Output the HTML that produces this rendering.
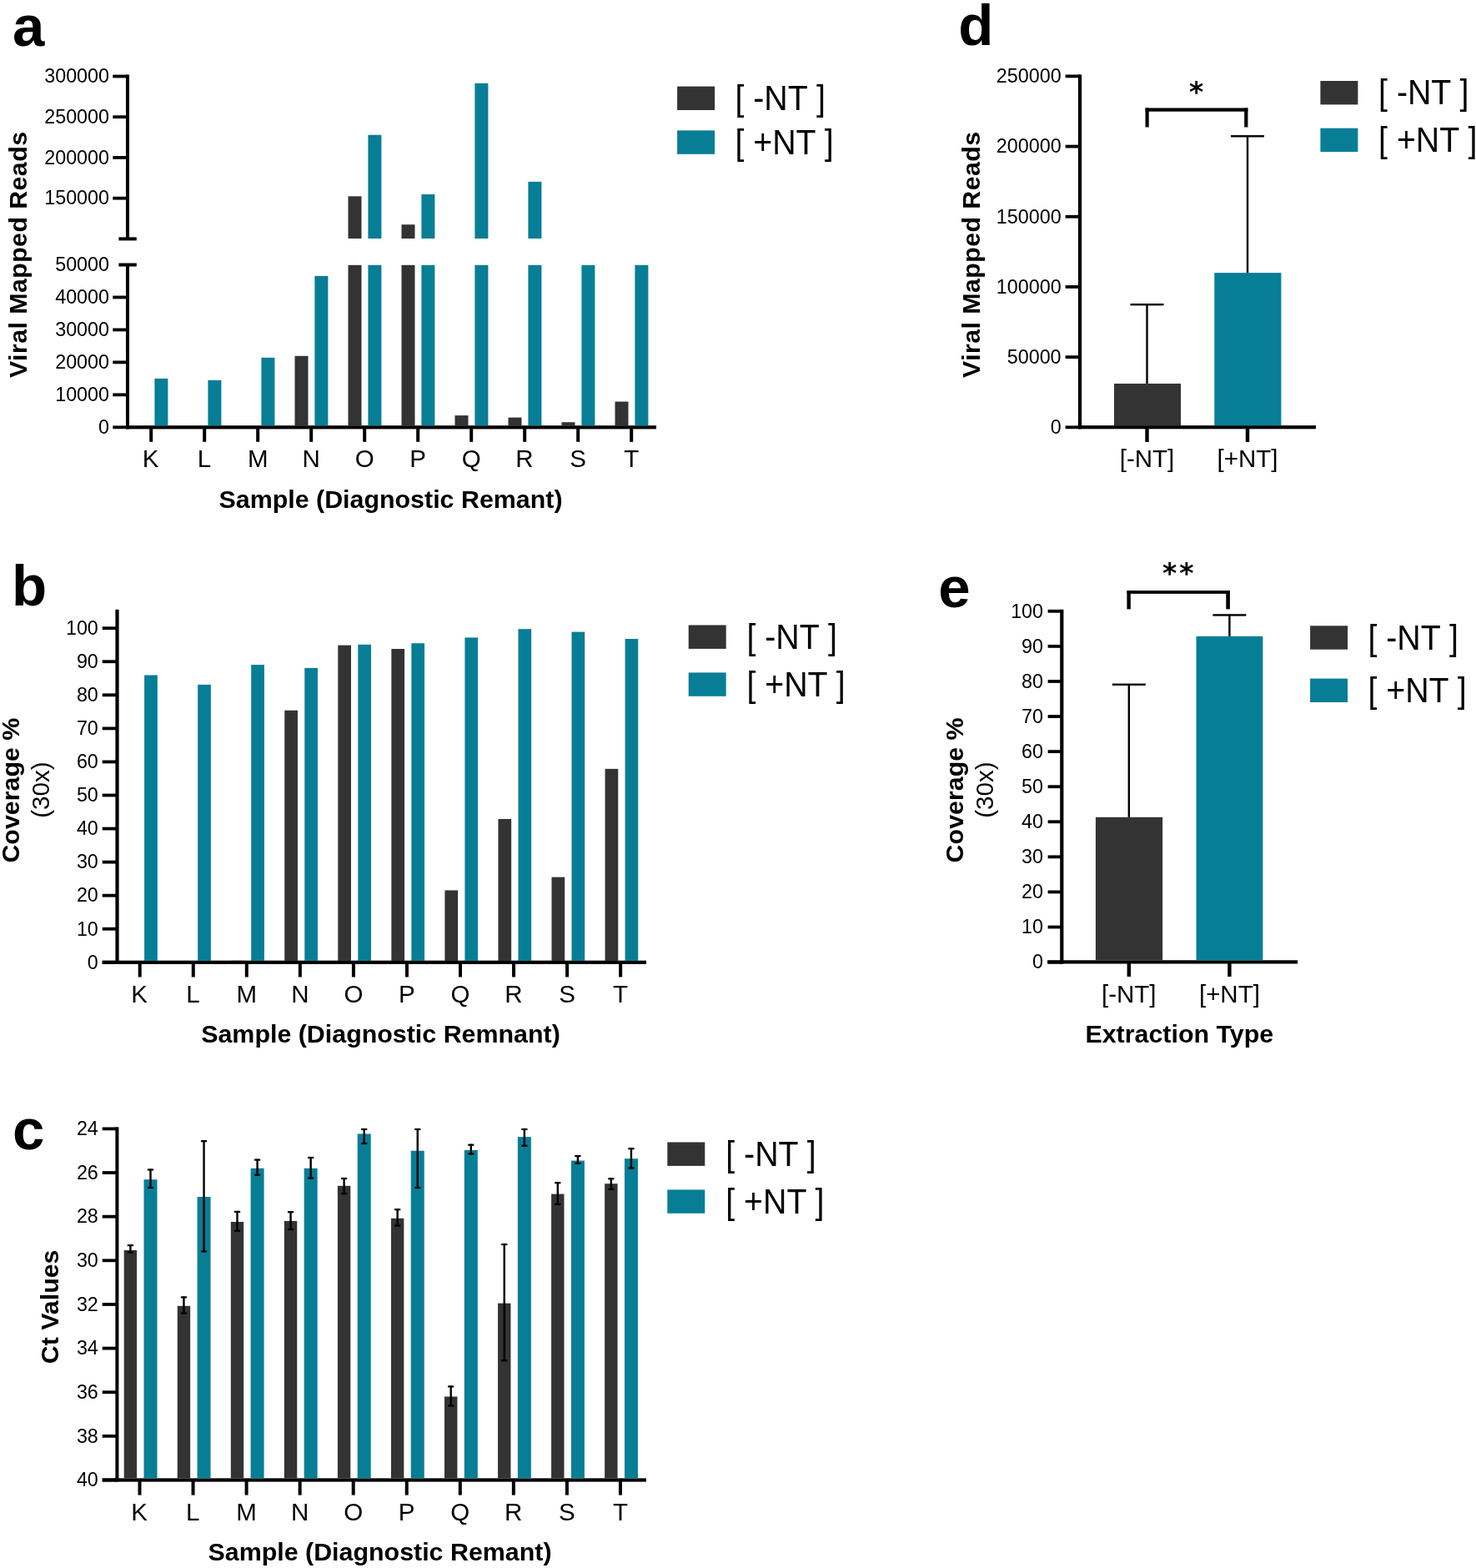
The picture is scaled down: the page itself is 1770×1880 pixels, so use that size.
<!DOCTYPE html>
<html><head><meta charset="utf-8"><title>Figure</title>
<style>html,body{margin:0;padding:0;background:#fff;}svg{display:block;}text{fill:#000;}</style>
</head><body>
<svg width="1770" height="1880" viewBox="0 0 1770 1880">
<rect x="0" y="0" width="1770" height="1880" fill="#fff"/>
<text x="15.00" y="55.30" font-size="69" text-anchor="start" font-weight="bold" font-family="'Liberation Sans', Arial, sans-serif">a</text>
<rect x="151.00" y="89.60" width="4.00" height="196.80" fill="#000000"/>
<rect x="151.00" y="317.50" width="4.00" height="196.80" fill="#000000"/>
<rect x="142.40" y="284.40" width="21.40" height="4.00" fill="#000000"/>
<rect x="142.40" y="315.50" width="21.40" height="4.00" fill="#000000"/>
<rect x="135.30" y="89.60" width="17.70" height="3.80" fill="#000000"/>
<text x="131.00" y="99.30" font-size="23.3" text-anchor="end" font-family="'Liberation Sans', Arial, sans-serif">300000</text>
<rect x="135.30" y="138.32" width="17.70" height="3.80" fill="#000000"/>
<text x="131.00" y="148.03" font-size="23.3" text-anchor="end" font-family="'Liberation Sans', Arial, sans-serif">250000</text>
<rect x="135.30" y="187.05" width="17.70" height="3.80" fill="#000000"/>
<text x="131.00" y="196.75" font-size="23.3" text-anchor="end" font-family="'Liberation Sans', Arial, sans-serif">200000</text>
<rect x="135.30" y="235.77" width="17.70" height="3.80" fill="#000000"/>
<text x="131.00" y="245.47" font-size="23.3" text-anchor="end" font-family="'Liberation Sans', Arial, sans-serif">150000</text>
<text x="131.00" y="325.30" font-size="23.3" text-anchor="end" font-family="'Liberation Sans', Arial, sans-serif">50000</text>
<rect x="135.30" y="354.56" width="17.70" height="3.80" fill="#000000"/>
<text x="131.00" y="364.26" font-size="23.3" text-anchor="end" font-family="'Liberation Sans', Arial, sans-serif">40000</text>
<rect x="135.30" y="393.52" width="17.70" height="3.80" fill="#000000"/>
<text x="131.00" y="403.22" font-size="23.3" text-anchor="end" font-family="'Liberation Sans', Arial, sans-serif">30000</text>
<rect x="135.30" y="432.48" width="17.70" height="3.80" fill="#000000"/>
<text x="131.00" y="442.18" font-size="23.3" text-anchor="end" font-family="'Liberation Sans', Arial, sans-serif">20000</text>
<rect x="135.30" y="471.44" width="17.70" height="3.80" fill="#000000"/>
<text x="131.00" y="481.14" font-size="23.3" text-anchor="end" font-family="'Liberation Sans', Arial, sans-serif">10000</text>
<rect x="135.30" y="510.40" width="17.70" height="3.80" fill="#000000"/>
<text x="131.00" y="520.10" font-size="23.3" text-anchor="end" font-family="'Liberation Sans', Arial, sans-serif">0</text>
<rect x="151.00" y="510.20" width="636.00" height="4.20" fill="#000000"/>
<rect x="179.20" y="512.30" width="4.00" height="17.50" fill="#000000"/>
<text x="180.70" y="560.20" font-size="29.5" text-anchor="middle" font-family="'Liberation Sans', Arial, sans-serif">K</text>
<rect x="185.40" y="453.86" width="16.00" height="56.44" fill="#077e96"/>
<rect x="243.20" y="512.30" width="4.00" height="17.50" fill="#000000"/>
<text x="244.84" y="560.20" font-size="29.5" text-anchor="middle" font-family="'Liberation Sans', Arial, sans-serif">L</text>
<rect x="249.40" y="455.81" width="16.00" height="54.49" fill="#077e96"/>
<rect x="307.20" y="512.30" width="4.00" height="17.50" fill="#000000"/>
<text x="309.22" y="560.20" font-size="29.5" text-anchor="middle" font-family="'Liberation Sans', Arial, sans-serif">M</text>
<rect x="313.40" y="428.81" width="16.00" height="81.49" fill="#077e96"/>
<rect x="371.20" y="512.30" width="4.00" height="17.50" fill="#000000"/>
<text x="373.22" y="560.20" font-size="29.5" text-anchor="middle" font-family="'Liberation Sans', Arial, sans-serif">N</text>
<rect x="353.50" y="426.78" width="16.00" height="83.52" fill="#333333"/>
<rect x="377.40" y="330.90" width="16.00" height="179.40" fill="#077e96"/>
<rect x="435.20" y="512.30" width="4.00" height="17.50" fill="#000000"/>
<text x="437.22" y="560.20" font-size="29.5" text-anchor="middle" font-family="'Liberation Sans', Arial, sans-serif">O</text>
<rect x="417.50" y="317.80" width="16.00" height="192.50" fill="#333333"/>
<rect x="417.50" y="235.34" width="16.00" height="50.66" fill="#333333"/>
<rect x="441.40" y="317.80" width="16.00" height="192.50" fill="#077e96"/>
<rect x="441.40" y="161.76" width="16.00" height="124.24" fill="#077e96"/>
<rect x="499.20" y="512.30" width="4.00" height="17.50" fill="#000000"/>
<text x="500.99" y="560.20" font-size="29.5" text-anchor="middle" font-family="'Liberation Sans', Arial, sans-serif">P</text>
<rect x="481.50" y="317.80" width="16.00" height="192.50" fill="#333333"/>
<rect x="481.50" y="269.25" width="16.00" height="16.75" fill="#333333"/>
<rect x="505.40" y="317.80" width="16.00" height="192.50" fill="#077e96"/>
<rect x="505.40" y="233.00" width="16.00" height="53.00" fill="#077e96"/>
<rect x="563.20" y="512.30" width="4.00" height="17.50" fill="#000000"/>
<text x="565.22" y="560.20" font-size="29.5" text-anchor="middle" font-family="'Liberation Sans', Arial, sans-serif">Q</text>
<rect x="545.50" y="498.10" width="16.00" height="12.20" fill="#333333"/>
<rect x="569.40" y="317.80" width="16.00" height="192.50" fill="#077e96"/>
<rect x="569.40" y="99.88" width="16.00" height="186.12" fill="#077e96"/>
<rect x="627.20" y="512.30" width="4.00" height="17.50" fill="#000000"/>
<text x="628.96" y="560.20" font-size="29.5" text-anchor="middle" font-family="'Liberation Sans', Arial, sans-serif">R</text>
<rect x="609.50" y="500.61" width="16.00" height="9.69" fill="#333333"/>
<rect x="633.40" y="317.80" width="16.00" height="192.50" fill="#077e96"/>
<rect x="633.40" y="217.89" width="16.00" height="68.11" fill="#077e96"/>
<rect x="691.20" y="512.30" width="4.00" height="17.50" fill="#000000"/>
<text x="693.21" y="560.20" font-size="29.5" text-anchor="middle" font-family="'Liberation Sans', Arial, sans-serif">S</text>
<rect x="673.50" y="506.20" width="16.00" height="4.10" fill="#333333"/>
<rect x="697.40" y="317.80" width="16.00" height="192.50" fill="#077e96"/>
<rect x="755.20" y="512.30" width="4.00" height="17.50" fill="#000000"/>
<text x="757.17" y="560.20" font-size="29.5" text-anchor="middle" font-family="'Liberation Sans', Arial, sans-serif">T</text>
<rect x="737.50" y="481.52" width="16.00" height="28.78" fill="#333333"/>
<rect x="761.40" y="317.80" width="16.00" height="192.50" fill="#077e96"/>
<text transform="translate(32.10 305.30) rotate(-90)" font-size="30.4" text-anchor="middle" font-weight="bold" font-family="'Liberation Sans', Arial, sans-serif" letter-spacing="0.4">Viral Mapped Reads</text>
<text x="468.50" y="608.60" font-size="30.4" text-anchor="middle" font-weight="bold" font-family="'Liberation Sans', Arial, sans-serif">Sample (Diagnostic Remant)</text>
<rect x="812.10" y="103.60" width="45.00" height="28.40" fill="#333333"/>
<rect x="812.10" y="156.40" width="45.00" height="28.40" fill="#077e96"/>
<text transform="translate(881.45 132.00) scale(1 1.06)" font-size="39.3" text-anchor="start" font-family="'Liberation Sans', Arial, sans-serif">[ -NT ]</text>
<text transform="translate(881.45 184.80) scale(1 1.06)" font-size="39.3" text-anchor="start" font-family="'Liberation Sans', Arial, sans-serif">[ +NT ]</text>
<text x="14.10" y="725.70" font-size="69" text-anchor="start" font-weight="bold" font-family="'Liberation Sans', Arial, sans-serif">b</text>
<rect x="138.40" y="730.80" width="4.20" height="425.00" fill="#000000"/>
<rect x="122.70" y="1151.90" width="17.80" height="3.80" fill="#000000"/>
<text x="117.80" y="1161.60" font-size="23.3" text-anchor="end" font-family="'Liberation Sans', Arial, sans-serif">0</text>
<rect x="122.70" y="1111.84" width="17.80" height="3.80" fill="#000000"/>
<text x="117.80" y="1121.54" font-size="23.3" text-anchor="end" font-family="'Liberation Sans', Arial, sans-serif">10</text>
<rect x="122.70" y="1071.78" width="17.80" height="3.80" fill="#000000"/>
<text x="117.80" y="1081.48" font-size="23.3" text-anchor="end" font-family="'Liberation Sans', Arial, sans-serif">20</text>
<rect x="122.70" y="1031.72" width="17.80" height="3.80" fill="#000000"/>
<text x="117.80" y="1041.42" font-size="23.3" text-anchor="end" font-family="'Liberation Sans', Arial, sans-serif">30</text>
<rect x="122.70" y="991.66" width="17.80" height="3.80" fill="#000000"/>
<text x="117.80" y="1001.36" font-size="23.3" text-anchor="end" font-family="'Liberation Sans', Arial, sans-serif">40</text>
<rect x="122.70" y="951.60" width="17.80" height="3.80" fill="#000000"/>
<text x="117.80" y="961.30" font-size="23.3" text-anchor="end" font-family="'Liberation Sans', Arial, sans-serif">50</text>
<rect x="122.70" y="911.54" width="17.80" height="3.80" fill="#000000"/>
<text x="117.80" y="921.24" font-size="23.3" text-anchor="end" font-family="'Liberation Sans', Arial, sans-serif">60</text>
<rect x="122.70" y="871.48" width="17.80" height="3.80" fill="#000000"/>
<text x="117.80" y="881.18" font-size="23.3" text-anchor="end" font-family="'Liberation Sans', Arial, sans-serif">70</text>
<rect x="122.70" y="831.42" width="17.80" height="3.80" fill="#000000"/>
<text x="117.80" y="841.12" font-size="23.3" text-anchor="end" font-family="'Liberation Sans', Arial, sans-serif">80</text>
<rect x="122.70" y="791.36" width="17.80" height="3.80" fill="#000000"/>
<text x="117.80" y="801.06" font-size="23.3" text-anchor="end" font-family="'Liberation Sans', Arial, sans-serif">90</text>
<rect x="122.70" y="751.30" width="17.80" height="3.80" fill="#000000"/>
<text x="117.80" y="761.00" font-size="23.3" text-anchor="end" font-family="'Liberation Sans', Arial, sans-serif">100</text>
<rect x="122.70" y="1151.70" width="652.30" height="4.20" fill="#000000"/>
<rect x="165.70" y="1153.80" width="4.00" height="17.70" fill="#000000"/>
<text x="167.20" y="1201.80" font-size="29.5" text-anchor="middle" font-family="'Liberation Sans', Arial, sans-serif">K</text>
<rect x="173.10" y="809.48" width="15.70" height="342.52" fill="#077e96"/>
<rect x="229.75" y="1153.80" width="4.00" height="17.70" fill="#000000"/>
<text x="231.39" y="1201.80" font-size="29.5" text-anchor="middle" font-family="'Liberation Sans', Arial, sans-serif">L</text>
<rect x="237.15" y="820.90" width="15.70" height="331.10" fill="#077e96"/>
<rect x="293.80" y="1153.80" width="4.00" height="17.70" fill="#000000"/>
<text x="295.82" y="1201.80" font-size="29.5" text-anchor="middle" font-family="'Liberation Sans', Arial, sans-serif">M</text>
<rect x="277.20" y="1151.80" width="15.70" height="0.20" fill="#333333"/>
<rect x="301.20" y="797.07" width="15.70" height="354.93" fill="#077e96"/>
<rect x="357.85" y="1153.80" width="4.00" height="17.70" fill="#000000"/>
<text x="359.87" y="1201.80" font-size="29.5" text-anchor="middle" font-family="'Liberation Sans', Arial, sans-serif">N</text>
<rect x="341.25" y="851.75" width="15.70" height="300.25" fill="#333333"/>
<rect x="365.25" y="800.87" width="15.70" height="351.13" fill="#077e96"/>
<rect x="421.90" y="1153.80" width="4.00" height="17.70" fill="#000000"/>
<text x="423.92" y="1201.80" font-size="29.5" text-anchor="middle" font-family="'Liberation Sans', Arial, sans-serif">O</text>
<rect x="405.30" y="773.63" width="15.70" height="378.37" fill="#333333"/>
<rect x="429.30" y="772.83" width="15.70" height="379.17" fill="#077e96"/>
<rect x="485.95" y="1153.80" width="4.00" height="17.70" fill="#000000"/>
<text x="487.74" y="1201.80" font-size="29.5" text-anchor="middle" font-family="'Liberation Sans', Arial, sans-serif">P</text>
<rect x="469.35" y="778.04" width="15.70" height="373.96" fill="#333333"/>
<rect x="493.35" y="771.23" width="15.70" height="380.77" fill="#077e96"/>
<rect x="550.00" y="1153.80" width="4.00" height="17.70" fill="#000000"/>
<text x="552.02" y="1201.80" font-size="29.5" text-anchor="middle" font-family="'Liberation Sans', Arial, sans-serif">Q</text>
<rect x="533.40" y="1067.47" width="15.70" height="84.53" fill="#333333"/>
<rect x="557.40" y="764.42" width="15.70" height="387.58" fill="#077e96"/>
<rect x="614.05" y="1153.80" width="4.00" height="17.70" fill="#000000"/>
<text x="615.81" y="1201.80" font-size="29.5" text-anchor="middle" font-family="'Liberation Sans', Arial, sans-serif">R</text>
<rect x="597.45" y="981.94" width="15.70" height="170.06" fill="#333333"/>
<rect x="621.45" y="754.20" width="15.70" height="397.80" fill="#077e96"/>
<rect x="678.10" y="1153.80" width="4.00" height="17.70" fill="#000000"/>
<text x="680.11" y="1201.80" font-size="29.5" text-anchor="middle" font-family="'Liberation Sans', Arial, sans-serif">S</text>
<rect x="661.50" y="1051.65" width="15.70" height="100.35" fill="#333333"/>
<rect x="685.50" y="757.61" width="15.70" height="394.39" fill="#077e96"/>
<rect x="742.15" y="1153.80" width="4.00" height="17.70" fill="#000000"/>
<text x="744.12" y="1201.80" font-size="29.5" text-anchor="middle" font-family="'Liberation Sans', Arial, sans-serif">T</text>
<rect x="725.55" y="921.85" width="15.70" height="230.15" fill="#333333"/>
<rect x="749.55" y="766.02" width="15.70" height="385.98" fill="#077e96"/>
<text transform="translate(23.20 947.60) rotate(-90)" font-size="30.4" text-anchor="middle" font-weight="bold" font-family="'Liberation Sans', Arial, sans-serif">Coverage %</text>
<text transform="translate(58.50 947.10) rotate(-90)" font-size="29.6" text-anchor="middle" font-family="'Liberation Sans', Arial, sans-serif">(30x)</text>
<text x="241.19" y="1249.80" font-size="30.4" text-anchor="start" font-weight="bold" font-family="'Liberation Sans', Arial, sans-serif">Sample (Diagnostic Remnant)</text>
<rect x="825.70" y="749.50" width="45.00" height="28.40" fill="#333333"/>
<rect x="825.70" y="806.40" width="45.00" height="28.40" fill="#077e96"/>
<text transform="translate(895.45 777.90) scale(1 1.06)" font-size="39.3" text-anchor="start" font-family="'Liberation Sans', Arial, sans-serif">[ -NT ]</text>
<text transform="translate(895.45 834.80) scale(1 1.06)" font-size="39.3" text-anchor="start" font-family="'Liberation Sans', Arial, sans-serif">[ +NT ]</text>
<text x="15.00" y="1378.10" font-size="69" text-anchor="start" font-weight="bold" font-family="'Liberation Sans', Arial, sans-serif">c</text>
<rect x="138.40" y="1351.40" width="4.00" height="425.10" fill="#000000"/>
<rect x="122.70" y="1351.50" width="17.70" height="3.80" fill="#000000"/>
<text x="117.80" y="1361.20" font-size="23.3" text-anchor="end" font-family="'Liberation Sans', Arial, sans-serif">24</text>
<rect x="122.70" y="1404.14" width="17.70" height="3.80" fill="#000000"/>
<text x="117.80" y="1413.84" font-size="23.3" text-anchor="end" font-family="'Liberation Sans', Arial, sans-serif">26</text>
<rect x="122.70" y="1456.78" width="17.70" height="3.80" fill="#000000"/>
<text x="117.80" y="1466.48" font-size="23.3" text-anchor="end" font-family="'Liberation Sans', Arial, sans-serif">28</text>
<rect x="122.70" y="1509.41" width="17.70" height="3.80" fill="#000000"/>
<text x="117.80" y="1519.11" font-size="23.3" text-anchor="end" font-family="'Liberation Sans', Arial, sans-serif">30</text>
<rect x="122.70" y="1562.05" width="17.70" height="3.80" fill="#000000"/>
<text x="117.80" y="1571.75" font-size="23.3" text-anchor="end" font-family="'Liberation Sans', Arial, sans-serif">32</text>
<rect x="122.70" y="1614.69" width="17.70" height="3.80" fill="#000000"/>
<text x="117.80" y="1624.39" font-size="23.3" text-anchor="end" font-family="'Liberation Sans', Arial, sans-serif">34</text>
<rect x="122.70" y="1667.32" width="17.70" height="3.80" fill="#000000"/>
<text x="117.80" y="1677.02" font-size="23.3" text-anchor="end" font-family="'Liberation Sans', Arial, sans-serif">36</text>
<rect x="122.70" y="1719.96" width="17.70" height="3.80" fill="#000000"/>
<text x="117.80" y="1729.66" font-size="23.3" text-anchor="end" font-family="'Liberation Sans', Arial, sans-serif">38</text>
<rect x="122.70" y="1772.60" width="17.70" height="3.80" fill="#000000"/>
<text x="117.80" y="1782.30" font-size="23.3" text-anchor="end" font-family="'Liberation Sans', Arial, sans-serif">40</text>
<rect x="122.70" y="1772.40" width="652.30" height="4.20" fill="#000000"/>
<rect x="165.50" y="1774.50" width="4.00" height="18.10" fill="#000000"/>
<text x="167.00" y="1822.90" font-size="29.5" text-anchor="middle" font-family="'Liberation Sans', Arial, sans-serif">K</text>
<rect x="148.70" y="1498.94" width="15.40" height="273.56" fill="#333333"/>
<rect x="155.20" y="1492.10" width="2.40" height="10.50" fill="#000000"/>
<rect x="152.80" y="1492.00" width="7.20" height="2.20" fill="#000000"/>
<rect x="152.80" y="1500.50" width="7.20" height="2.20" fill="#000000"/>
<rect x="172.50" y="1414.20" width="16.00" height="358.30" fill="#077e96"/>
<rect x="179.30" y="1401.50" width="2.40" height="23.50" fill="#000000"/>
<rect x="176.90" y="1401.40" width="7.20" height="2.20" fill="#000000"/>
<rect x="176.90" y="1422.90" width="7.20" height="2.20" fill="#000000"/>
<rect x="229.55" y="1774.50" width="4.00" height="18.10" fill="#000000"/>
<text x="231.19" y="1822.90" font-size="29.5" text-anchor="middle" font-family="'Liberation Sans', Arial, sans-serif">L</text>
<rect x="212.75" y="1565.79" width="15.40" height="206.71" fill="#333333"/>
<rect x="219.25" y="1554.40" width="2.40" height="21.20" fill="#000000"/>
<rect x="216.85" y="1554.30" width="7.20" height="2.20" fill="#000000"/>
<rect x="216.85" y="1573.50" width="7.20" height="2.20" fill="#000000"/>
<rect x="236.55" y="1434.99" width="16.00" height="337.51" fill="#077e96"/>
<rect x="243.35" y="1367.20" width="2.40" height="134.20" fill="#000000"/>
<rect x="240.95" y="1367.10" width="7.20" height="2.20" fill="#000000"/>
<rect x="240.95" y="1499.30" width="7.20" height="2.20" fill="#000000"/>
<rect x="293.60" y="1774.50" width="4.00" height="18.10" fill="#000000"/>
<text x="295.62" y="1822.90" font-size="29.5" text-anchor="middle" font-family="'Liberation Sans', Arial, sans-serif">M</text>
<rect x="276.80" y="1464.99" width="15.40" height="307.51" fill="#333333"/>
<rect x="283.30" y="1451.90" width="2.40" height="24.90" fill="#000000"/>
<rect x="280.90" y="1451.80" width="7.20" height="2.20" fill="#000000"/>
<rect x="280.90" y="1474.70" width="7.20" height="2.20" fill="#000000"/>
<rect x="300.60" y="1400.77" width="16.00" height="371.73" fill="#077e96"/>
<rect x="307.40" y="1389.60" width="2.40" height="20.10" fill="#000000"/>
<rect x="305.00" y="1389.50" width="7.20" height="2.20" fill="#000000"/>
<rect x="305.00" y="1407.60" width="7.20" height="2.20" fill="#000000"/>
<rect x="357.65" y="1774.50" width="4.00" height="18.10" fill="#000000"/>
<text x="359.67" y="1822.90" font-size="29.5" text-anchor="middle" font-family="'Liberation Sans', Arial, sans-serif">N</text>
<rect x="340.85" y="1463.94" width="15.40" height="308.56" fill="#333333"/>
<rect x="347.35" y="1452.20" width="2.40" height="22.80" fill="#000000"/>
<rect x="344.95" y="1452.10" width="7.20" height="2.20" fill="#000000"/>
<rect x="344.95" y="1472.90" width="7.20" height="2.20" fill="#000000"/>
<rect x="364.65" y="1400.77" width="16.00" height="371.73" fill="#077e96"/>
<rect x="371.45" y="1387.00" width="2.40" height="26.50" fill="#000000"/>
<rect x="369.05" y="1386.90" width="7.20" height="2.20" fill="#000000"/>
<rect x="369.05" y="1411.40" width="7.20" height="2.20" fill="#000000"/>
<rect x="421.70" y="1774.50" width="4.00" height="18.10" fill="#000000"/>
<text x="423.72" y="1822.90" font-size="29.5" text-anchor="middle" font-family="'Liberation Sans', Arial, sans-serif">O</text>
<rect x="404.90" y="1421.83" width="15.40" height="350.67" fill="#333333"/>
<rect x="411.40" y="1412.00" width="2.40" height="20.10" fill="#000000"/>
<rect x="409.00" y="1411.90" width="7.20" height="2.20" fill="#000000"/>
<rect x="409.00" y="1430.00" width="7.20" height="2.20" fill="#000000"/>
<rect x="428.70" y="1359.45" width="16.00" height="413.05" fill="#077e96"/>
<rect x="435.50" y="1353.00" width="2.40" height="19.00" fill="#000000"/>
<rect x="433.10" y="1352.90" width="7.20" height="2.20" fill="#000000"/>
<rect x="433.10" y="1369.90" width="7.20" height="2.20" fill="#000000"/>
<rect x="485.75" y="1774.50" width="4.00" height="18.10" fill="#000000"/>
<text x="487.54" y="1822.90" font-size="29.5" text-anchor="middle" font-family="'Liberation Sans', Arial, sans-serif">P</text>
<rect x="468.95" y="1460.78" width="15.40" height="311.72" fill="#333333"/>
<rect x="475.45" y="1449.20" width="2.40" height="21.30" fill="#000000"/>
<rect x="473.05" y="1449.10" width="7.20" height="2.20" fill="#000000"/>
<rect x="473.05" y="1468.40" width="7.20" height="2.20" fill="#000000"/>
<rect x="492.75" y="1379.72" width="16.00" height="392.78" fill="#077e96"/>
<rect x="499.55" y="1353.00" width="2.40" height="72.00" fill="#000000"/>
<rect x="497.15" y="1352.90" width="7.20" height="2.20" fill="#000000"/>
<rect x="497.15" y="1422.90" width="7.20" height="2.20" fill="#000000"/>
<rect x="549.80" y="1774.50" width="4.00" height="18.10" fill="#000000"/>
<text x="551.82" y="1822.90" font-size="29.5" text-anchor="middle" font-family="'Liberation Sans', Arial, sans-serif">Q</text>
<rect x="533.00" y="1674.49" width="15.40" height="98.01" fill="#333333"/>
<rect x="539.50" y="1661.40" width="2.40" height="25.00" fill="#000000"/>
<rect x="537.10" y="1661.30" width="7.20" height="2.20" fill="#000000"/>
<rect x="537.10" y="1684.30" width="7.20" height="2.20" fill="#000000"/>
<rect x="556.80" y="1378.93" width="16.00" height="393.57" fill="#077e96"/>
<rect x="563.60" y="1371.70" width="2.40" height="12.70" fill="#000000"/>
<rect x="561.20" y="1371.60" width="7.20" height="2.20" fill="#000000"/>
<rect x="561.20" y="1382.30" width="7.20" height="2.20" fill="#000000"/>
<rect x="613.85" y="1774.50" width="4.00" height="18.10" fill="#000000"/>
<text x="615.61" y="1822.90" font-size="29.5" text-anchor="middle" font-family="'Liberation Sans', Arial, sans-serif">R</text>
<rect x="597.05" y="1562.63" width="15.40" height="209.87" fill="#333333"/>
<rect x="603.55" y="1491.00" width="2.40" height="141.30" fill="#000000"/>
<rect x="601.15" y="1490.90" width="7.20" height="2.20" fill="#000000"/>
<rect x="601.15" y="1630.20" width="7.20" height="2.20" fill="#000000"/>
<rect x="620.85" y="1363.14" width="16.00" height="409.36" fill="#077e96"/>
<rect x="627.65" y="1353.00" width="2.40" height="21.70" fill="#000000"/>
<rect x="625.25" y="1352.90" width="7.20" height="2.20" fill="#000000"/>
<rect x="625.25" y="1372.60" width="7.20" height="2.20" fill="#000000"/>
<rect x="677.90" y="1774.50" width="4.00" height="18.10" fill="#000000"/>
<text x="679.91" y="1822.90" font-size="29.5" text-anchor="middle" font-family="'Liberation Sans', Arial, sans-serif">S</text>
<rect x="661.10" y="1431.57" width="15.40" height="340.93" fill="#333333"/>
<rect x="667.60" y="1417.20" width="2.40" height="27.60" fill="#000000"/>
<rect x="665.20" y="1417.10" width="7.20" height="2.20" fill="#000000"/>
<rect x="665.20" y="1442.70" width="7.20" height="2.20" fill="#000000"/>
<rect x="684.90" y="1391.56" width="16.00" height="380.94" fill="#077e96"/>
<rect x="691.70" y="1385.10" width="2.40" height="10.80" fill="#000000"/>
<rect x="689.30" y="1385.00" width="7.20" height="2.20" fill="#000000"/>
<rect x="689.30" y="1393.80" width="7.20" height="2.20" fill="#000000"/>
<rect x="741.95" y="1774.50" width="4.00" height="18.10" fill="#000000"/>
<text x="743.92" y="1822.90" font-size="29.5" text-anchor="middle" font-family="'Liberation Sans', Arial, sans-serif">T</text>
<rect x="725.15" y="1419.20" width="15.40" height="353.30" fill="#333333"/>
<rect x="731.65" y="1412.30" width="2.40" height="14.60" fill="#000000"/>
<rect x="729.25" y="1412.20" width="7.20" height="2.20" fill="#000000"/>
<rect x="729.25" y="1424.80" width="7.20" height="2.20" fill="#000000"/>
<rect x="748.95" y="1389.19" width="16.00" height="383.31" fill="#077e96"/>
<rect x="755.75" y="1376.20" width="2.40" height="25.30" fill="#000000"/>
<rect x="753.35" y="1376.10" width="7.20" height="2.20" fill="#000000"/>
<rect x="753.35" y="1399.40" width="7.20" height="2.20" fill="#000000"/>
<text transform="translate(69.90 1566.90) rotate(-90)" font-size="30.4" text-anchor="middle" font-weight="bold" font-family="'Liberation Sans', Arial, sans-serif">Ct Values</text>
<text x="249.49" y="1871.00" font-size="30.4" text-anchor="start" font-weight="bold" font-family="'Liberation Sans', Arial, sans-serif">Sample (Diagnostic Remant)</text>
<rect x="800.30" y="1369.50" width="45.00" height="28.40" fill="#333333"/>
<rect x="800.30" y="1426.40" width="45.00" height="28.40" fill="#077e96"/>
<text transform="translate(870.25 1397.90) scale(1 1.06)" font-size="39.3" text-anchor="start" font-family="'Liberation Sans', Arial, sans-serif">[ -NT ]</text>
<text transform="translate(870.25 1454.80) scale(1 1.06)" font-size="39.3" text-anchor="start" font-family="'Liberation Sans', Arial, sans-serif">[ +NT ]</text>
<text x="1149.30" y="54.40" font-size="69" text-anchor="start" font-weight="bold" font-family="'Liberation Sans', Arial, sans-serif">d</text>
<rect x="1292.90" y="89.40" width="4.20" height="424.90" fill="#000000"/>
<rect x="1277.60" y="510.40" width="17.40" height="3.80" fill="#000000"/>
<text x="1272.60" y="520.10" font-size="23.3" text-anchor="end" font-family="'Liberation Sans', Arial, sans-serif">0</text>
<rect x="1277.60" y="426.22" width="17.40" height="3.80" fill="#000000"/>
<text x="1272.60" y="435.92" font-size="23.3" text-anchor="end" font-family="'Liberation Sans', Arial, sans-serif">50000</text>
<rect x="1277.60" y="342.04" width="17.40" height="3.80" fill="#000000"/>
<text x="1272.60" y="351.74" font-size="23.3" text-anchor="end" font-family="'Liberation Sans', Arial, sans-serif">100000</text>
<rect x="1277.60" y="257.86" width="17.40" height="3.80" fill="#000000"/>
<text x="1272.60" y="267.56" font-size="23.3" text-anchor="end" font-family="'Liberation Sans', Arial, sans-serif">150000</text>
<rect x="1277.60" y="173.68" width="17.40" height="3.80" fill="#000000"/>
<text x="1272.60" y="183.38" font-size="23.3" text-anchor="end" font-family="'Liberation Sans', Arial, sans-serif">200000</text>
<rect x="1277.60" y="89.50" width="17.40" height="3.80" fill="#000000"/>
<text x="1272.60" y="99.20" font-size="23.3" text-anchor="end" font-family="'Liberation Sans', Arial, sans-serif">250000</text>
<rect x="1293.00" y="510.10" width="285.00" height="4.20" fill="#000000"/>
<rect x="1336.00" y="459.94" width="80.00" height="50.26" fill="#333333"/>
<rect x="1374.30" y="365.15" width="2.40" height="94.79" fill="#000000"/>
<rect x="1355.50" y="363.95" width="40.00" height="2.40" fill="#000000"/>
<rect x="1373.30" y="512.20" width="4.40" height="17.80" fill="#000000"/>
<text x="1375.51" y="560.40" font-size="29.5" text-anchor="middle" font-family="'Liberation Sans', Arial, sans-serif">[-NT]</text>
<rect x="1456.30" y="327.10" width="80.10" height="183.10" fill="#077e96"/>
<rect x="1494.80" y="163.29" width="2.40" height="163.81" fill="#000000"/>
<rect x="1476.00" y="162.09" width="40.00" height="2.40" fill="#000000"/>
<rect x="1493.80" y="512.20" width="4.40" height="17.80" fill="#000000"/>
<text x="1496.02" y="560.40" font-size="29.5" text-anchor="middle" font-family="'Liberation Sans', Arial, sans-serif">[+NT]</text>
<text transform="translate(1174.70 305.20) rotate(-90)" font-size="30.4" text-anchor="middle" font-weight="bold" font-family="'Liberation Sans', Arial, sans-serif" letter-spacing="0.4">Viral Mapped Reads</text>
<rect x="1373.50" y="129.50" width="122.90" height="4.20" fill="#000000"/>
<rect x="1373.50" y="129.50" width="4.20" height="23.00" fill="#000000"/>
<rect x="1492.20" y="129.50" width="4.20" height="23.00" fill="#000000"/>
<text x="1434.60" y="121.50" font-size="33" text-anchor="middle" font-weight="bold" font-family="'DejaVu Sans', sans-serif">*</text>
<rect x="1583.40" y="97.00" width="45.00" height="28.40" fill="#333333"/>
<rect x="1583.40" y="153.70" width="45.00" height="28.40" fill="#077e96"/>
<text transform="translate(1653.05 125.40) scale(1 1.06)" font-size="39.3" text-anchor="start" font-family="'Liberation Sans', Arial, sans-serif">[ -NT ]</text>
<text transform="translate(1653.05 182.10) scale(1 1.06)" font-size="39.3" text-anchor="start" font-family="'Liberation Sans', Arial, sans-serif">[ +NT ]</text>
<text x="1125.20" y="727.60" font-size="69" text-anchor="start" font-weight="bold" font-family="'Liberation Sans', Arial, sans-serif">e</text>
<rect x="1271.20" y="730.80" width="4.20" height="424.80" fill="#000000"/>
<rect x="1256.60" y="1151.70" width="16.70" height="3.80" fill="#000000"/>
<text x="1251.00" y="1161.40" font-size="23.3" text-anchor="end" font-family="'Liberation Sans', Arial, sans-serif">0</text>
<rect x="1256.60" y="1109.62" width="16.70" height="3.80" fill="#000000"/>
<text x="1251.00" y="1119.32" font-size="23.3" text-anchor="end" font-family="'Liberation Sans', Arial, sans-serif">10</text>
<rect x="1256.60" y="1067.54" width="16.70" height="3.80" fill="#000000"/>
<text x="1251.00" y="1077.24" font-size="23.3" text-anchor="end" font-family="'Liberation Sans', Arial, sans-serif">20</text>
<rect x="1256.60" y="1025.46" width="16.70" height="3.80" fill="#000000"/>
<text x="1251.00" y="1035.16" font-size="23.3" text-anchor="end" font-family="'Liberation Sans', Arial, sans-serif">30</text>
<rect x="1256.60" y="983.38" width="16.70" height="3.80" fill="#000000"/>
<text x="1251.00" y="993.08" font-size="23.3" text-anchor="end" font-family="'Liberation Sans', Arial, sans-serif">40</text>
<rect x="1256.60" y="941.30" width="16.70" height="3.80" fill="#000000"/>
<text x="1251.00" y="951.00" font-size="23.3" text-anchor="end" font-family="'Liberation Sans', Arial, sans-serif">50</text>
<rect x="1256.60" y="899.22" width="16.70" height="3.80" fill="#000000"/>
<text x="1251.00" y="908.92" font-size="23.3" text-anchor="end" font-family="'Liberation Sans', Arial, sans-serif">60</text>
<rect x="1256.60" y="857.14" width="16.70" height="3.80" fill="#000000"/>
<text x="1251.00" y="866.84" font-size="23.3" text-anchor="end" font-family="'Liberation Sans', Arial, sans-serif">70</text>
<rect x="1256.60" y="815.06" width="16.70" height="3.80" fill="#000000"/>
<text x="1251.00" y="824.76" font-size="23.3" text-anchor="end" font-family="'Liberation Sans', Arial, sans-serif">80</text>
<rect x="1256.60" y="772.98" width="16.70" height="3.80" fill="#000000"/>
<text x="1251.00" y="782.68" font-size="23.3" text-anchor="end" font-family="'Liberation Sans', Arial, sans-serif">90</text>
<rect x="1256.60" y="730.90" width="16.70" height="3.80" fill="#000000"/>
<text x="1251.00" y="740.60" font-size="23.3" text-anchor="end" font-family="'Liberation Sans', Arial, sans-serif">100</text>
<rect x="1256.00" y="1151.30" width="300.10" height="4.20" fill="#000000"/>
<rect x="1313.90" y="979.81" width="80.20" height="171.59" fill="#333333"/>
<rect x="1352.60" y="820.75" width="2.40" height="159.06" fill="#000000"/>
<rect x="1333.80" y="819.55" width="40.00" height="2.40" fill="#000000"/>
<rect x="1351.60" y="1153.40" width="4.40" height="17.60" fill="#000000"/>
<text x="1353.81" y="1201.50" font-size="29.5" text-anchor="middle" font-family="'Liberation Sans', Arial, sans-serif">[-NT]</text>
<rect x="1434.50" y="762.89" width="79.90" height="388.51" fill="#077e96"/>
<rect x="1473.20" y="737.43" width="2.40" height="25.46" fill="#000000"/>
<rect x="1454.40" y="736.23" width="40.00" height="2.40" fill="#000000"/>
<rect x="1472.20" y="1153.40" width="4.40" height="17.60" fill="#000000"/>
<text x="1474.42" y="1201.50" font-size="29.5" text-anchor="middle" font-family="'Liberation Sans', Arial, sans-serif">[+NT]</text>
<text transform="translate(1154.90 947.40) rotate(-90)" font-size="30.4" text-anchor="middle" font-weight="bold" font-family="'Liberation Sans', Arial, sans-serif">Coverage %</text>
<text transform="translate(1190.80 947.10) rotate(-90)" font-size="29.6" text-anchor="middle" font-family="'Liberation Sans', Arial, sans-serif">(30x)</text>
<text x="1414.30" y="1250.10" font-size="30.4" text-anchor="middle" font-weight="bold" font-family="'Liberation Sans', Arial, sans-serif">Extraction Type</text>
<rect x="1351.60" y="708.10" width="123.00" height="3.80" fill="#000000"/>
<rect x="1351.40" y="708.10" width="4.40" height="22.30" fill="#000000"/>
<rect x="1470.30" y="708.10" width="4.60" height="22.30" fill="#000000"/>
<text x="1393.90" y="699.30" font-size="33" text-anchor="start" font-weight="bold" font-family="'DejaVu Sans', sans-serif" letter-spacing="3.0">**</text>
<rect x="1571.10" y="750.30" width="45.00" height="28.40" fill="#333333"/>
<rect x="1571.10" y="813.60" width="45.00" height="28.40" fill="#077e96"/>
<text transform="translate(1640.45 778.70) scale(1 1.06)" font-size="39.3" text-anchor="start" font-family="'Liberation Sans', Arial, sans-serif">[ -NT ]</text>
<text transform="translate(1640.45 842.00) scale(1 1.06)" font-size="39.3" text-anchor="start" font-family="'Liberation Sans', Arial, sans-serif">[ +NT ]</text>
</svg>
</body></html>
